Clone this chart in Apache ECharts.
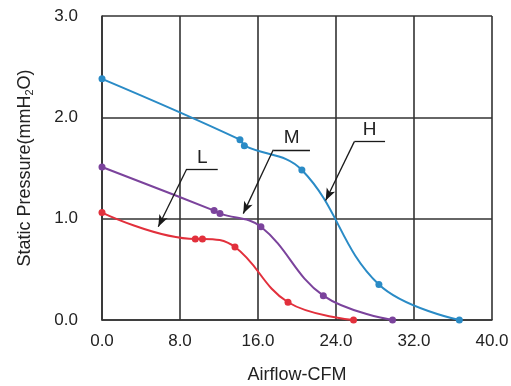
<!DOCTYPE html>
<html><head><meta charset="utf-8">
<script src="https://cdn.jsdelivr.net/npm/echarts@6/dist/echarts.min.js"></script>
<style>html,body{margin:0;padding:0;background:#fff}#c{width:511px;height:386px}</style>
</head><body><div id="c"></div>
<script>
const xTicks = [0, 8, 16, 24, 32, 40];
const yTicks = [0, 1, 2, 3];
const hData = [[0, 2.38], [14.15, 1.78], [14.6, 1.72], [20.5, 1.48], [28.4, 0.35], [36.65, 0]];
const mData = [[0, 1.51], [11.5, 1.08], [12.1, 1.05], [16.3, 0.92], [22.7, 0.24], [29.8, 0]];
const lData = [[0, 1.06], [9.57, 0.80], [10.3, 0.80], [13.64, 0.72], [19.08, 0.175], [25.8, 0]];
// annotation leaders: [label, shelfStart, shelfEnd, arrowTip]
const annL = ['L', [8.69, 1.49], [11.87, 1.49], [5.77, 0.92]];
const annM = ['M', [17.57, 1.68], [21.33, 1.68], [14.49, 1.05]];
const annH = ['H', [25.88, 1.76], [29.03, 1.76], [22.94, 1.18]];

const FONT = 'Liberation Sans, Arial, sans-serif';
function leader(a) {
  return {
    silent: true, animation: false,
    lineStyle: { color: '#1a1a1a', width: 1.3, type: 'solid' },
    data: [
      [{ coord: a[1], symbol: 'none', lineStyle: { color: '#1a1a1a', width: 1.3 },
         label: { show: true, formatter: a[0], position: 'insideMiddleTop', distance: 2, color: '#222', fontSize: 19, fontFamily: FONT } },
       { coord: a[2], symbol: 'none' }],
      [{ coord: a[1], symbol: 'none', label: { show: false } },
       { coord: a[3], symbol: 'arrow', symbolSize: [7, 12] }]
    ]
  };
}
function ser(name, data, color, ann) {
  return {
    name, type: 'line', data, smooth: 0.4, symbol: 'circle', symbolSize: 7,
    lineStyle: { color, width: 2 }, itemStyle: { color },
    markLine: leader(ann), z: 3
  };
}
const chart = echarts.init(document.getElementById('c'));
chart.setOption({
  animation: false,
  grid: { left: 102, right: 19, top: 16, bottom: 66, show: false, containLabel: false, outerBoundsMode: 'none' },
  xAxis: {
    type: 'value', min: xTicks[0], max: xTicks[xTicks.length - 1], interval: 8,
    name: 'Airflow-CFM', nameLocation: 'middle', nameGap: 46,
    nameTextStyle: { fontSize: 18, color: '#222', fontFamily: FONT },
    axisLine: { show: true, lineStyle: { color: '#333', width: 1.6 } },
    axisTick: { show: false },
    axisLabel: { formatter: v => v.toFixed(1), fontSize: 17, color: '#222', fontFamily: FONT, margin: 13 },
    splitLine: { show: true, lineStyle: { color: '#333', width: 1.6 } }
  },
  yAxis: {
    type: 'value', min: yTicks[0], max: yTicks[yTicks.length - 1], interval: 1,
    name: '{a|Static Pressure(mmH}{s|2}{a|O)}', nameLocation: 'middle', nameGap: 67, nameRotate: 90,
    nameTextStyle: { fontSize: 18, color: '#222', fontFamily: FONT,
      rich: { a: { fontSize: 18, color: '#222', fontFamily: FONT }, s: { fontSize: 11, color: '#222', fontFamily: FONT, padding: [8, 0, 0, 0] } } },
    axisLine: { show: true, lineStyle: { color: '#333', width: 1.6 } },
    axisTick: { show: false },
    axisLabel: { formatter: v => v.toFixed(1), fontSize: 17, color: '#222', fontFamily: FONT, margin: 24 },
    splitLine: { show: true, lineStyle: { color: '#333', width: 1.6 } }
  },
  series: [
    ser('H', hData, '#2a8bc6', annH),
    ser('M', mData, '#7b439c', annM),
    ser('L', lData, '#e2303c', annL)
  ]
});
</script></body></html>
